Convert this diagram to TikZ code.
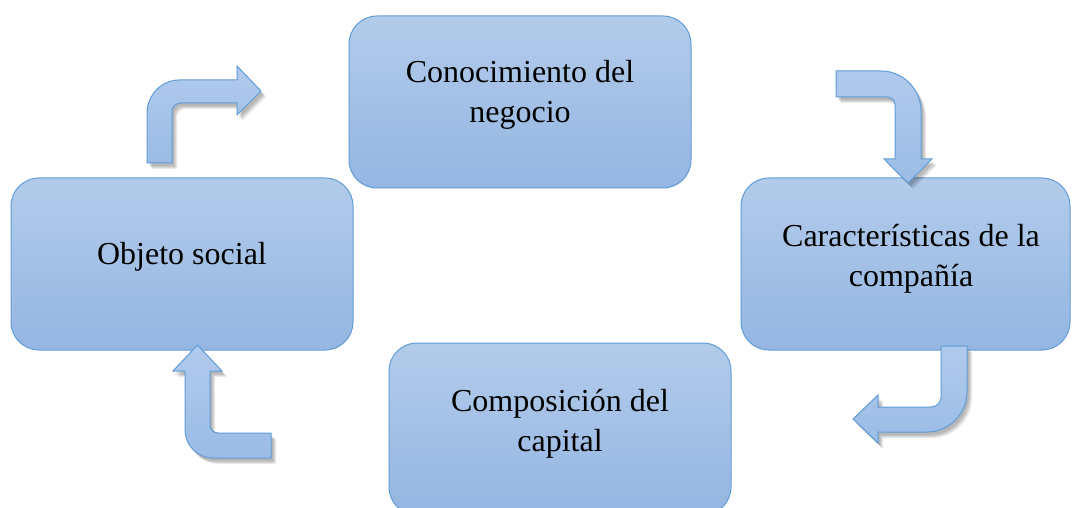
\documentclass[tikz,border=0pt]{standalone}
\usepackage{fontspec}
\setmainfont{Liberation Serif}
\definecolor{boxtop}{RGB}{178,203,234}
\definecolor{boxbot}{RGB}{148,182,226}
\definecolor{edge}{RGB}{97,157,215}
\definecolor{arrtop}{RGB}{176,202,236}
\definecolor{arrbot}{RGB}{155,188,230}
\tikzset{
  box/.style={draw=edge, line width=1pt, rounded corners=28pt, top color=boxtop, bottom color=boxbot, minimum height=172pt, inner sep=0pt},
  lbl/.style={align=center, font=\fontsize{32}{40}\selectfont, text=black},
  barrow/.style={draw=edge, line width=1pt, top color=arrtop, bottom color=arrbot},
  shd/.style={fill=black, opacity=0.08, draw=none}
}
\begin{document}
\begin{tikzpicture}[x=1pt, y=-1pt]
\useasboundingbox (0,0) rectangle (1072,508);
\clip (0,0) rectangle (1072,508);
\fill[white] (0,0) rectangle (1072,508);

% boxes
\node[box, minimum width=342pt] (b1) at (520,102) {};
\node[box, minimum width=342pt] (b2) at (182,264) {};
\node[box, minimum width=329pt] (b3) at (905.5,264) {};
\node[box, minimum width=342pt] (b4) at (560,429) {};

\node[lbl] (t1) at (520,95) {Conocimiento del\\negocio};
\node[lbl] (t2) at (182,256.5) {Objeto social};
\node[lbl] (t3) at (911,259) {Características de la\\compañía};
\node[lbl] (t4) at (560,424) {Composición del\\capital};

% arrow shapes
\def\arrA{(147,163) -- (147,113) .. controls (147,95.4) and (161.4,80) .. (179,80) -- (237,80) -- (237,66) -- (261,91) -- (237,115) -- (237,103) -- (181,103) .. controls (176.6,103) and (172,106.6) .. (172,111) -- (172,163) -- cycle}
\def\arrB{(836,71) -- (881,71) .. controls (903,71) and (921,89) .. (921,111) -- (921,159) -- (932,159) -- (908,183) -- (884,159) -- (895,159) -- (895,105) .. controls (895,100.6) and (891.4,97) .. (887,97) -- (836,97) -- cycle}
\def\arrC{(941,346) -- (967,346) -- (967,392) .. controls (967,414) and (949,432) .. (927,432) -- (878,432) -- (878,443) -- (853,419) -- (878,395) -- (878,407) -- (931,407) .. controls (936.5,407) and (941,402.5) .. (941,397) -- cycle}
\def\arrD{(271,458) -- (213,458) .. controls (197.6,458) and (185,445.4) .. (185,430) -- (185,371) -- (173,371) -- (197.5,345) -- (222,371) -- (210,371) -- (210,425) .. controls (210,429.4) and (213.6,433) .. (218,433) -- (271,433) -- cycle}

\foreach \dx/\dy in {2/3,3/4,4/5,5/6} {
  \fill[shd, shift={(\dx,\dy)}] \arrA;
  \fill[shd, shift={(\dx,\dy)}] \arrB;
  \fill[shd, shift={(\dx,\dy)}] \arrC;
  \fill[shd, shift={(\dx,\dy)}] \arrD;
}
\path[barrow] \arrA;
\path[barrow] \arrB;
\path[barrow] \arrC;
\path[barrow] \arrD;
\end{tikzpicture}
\end{document}
